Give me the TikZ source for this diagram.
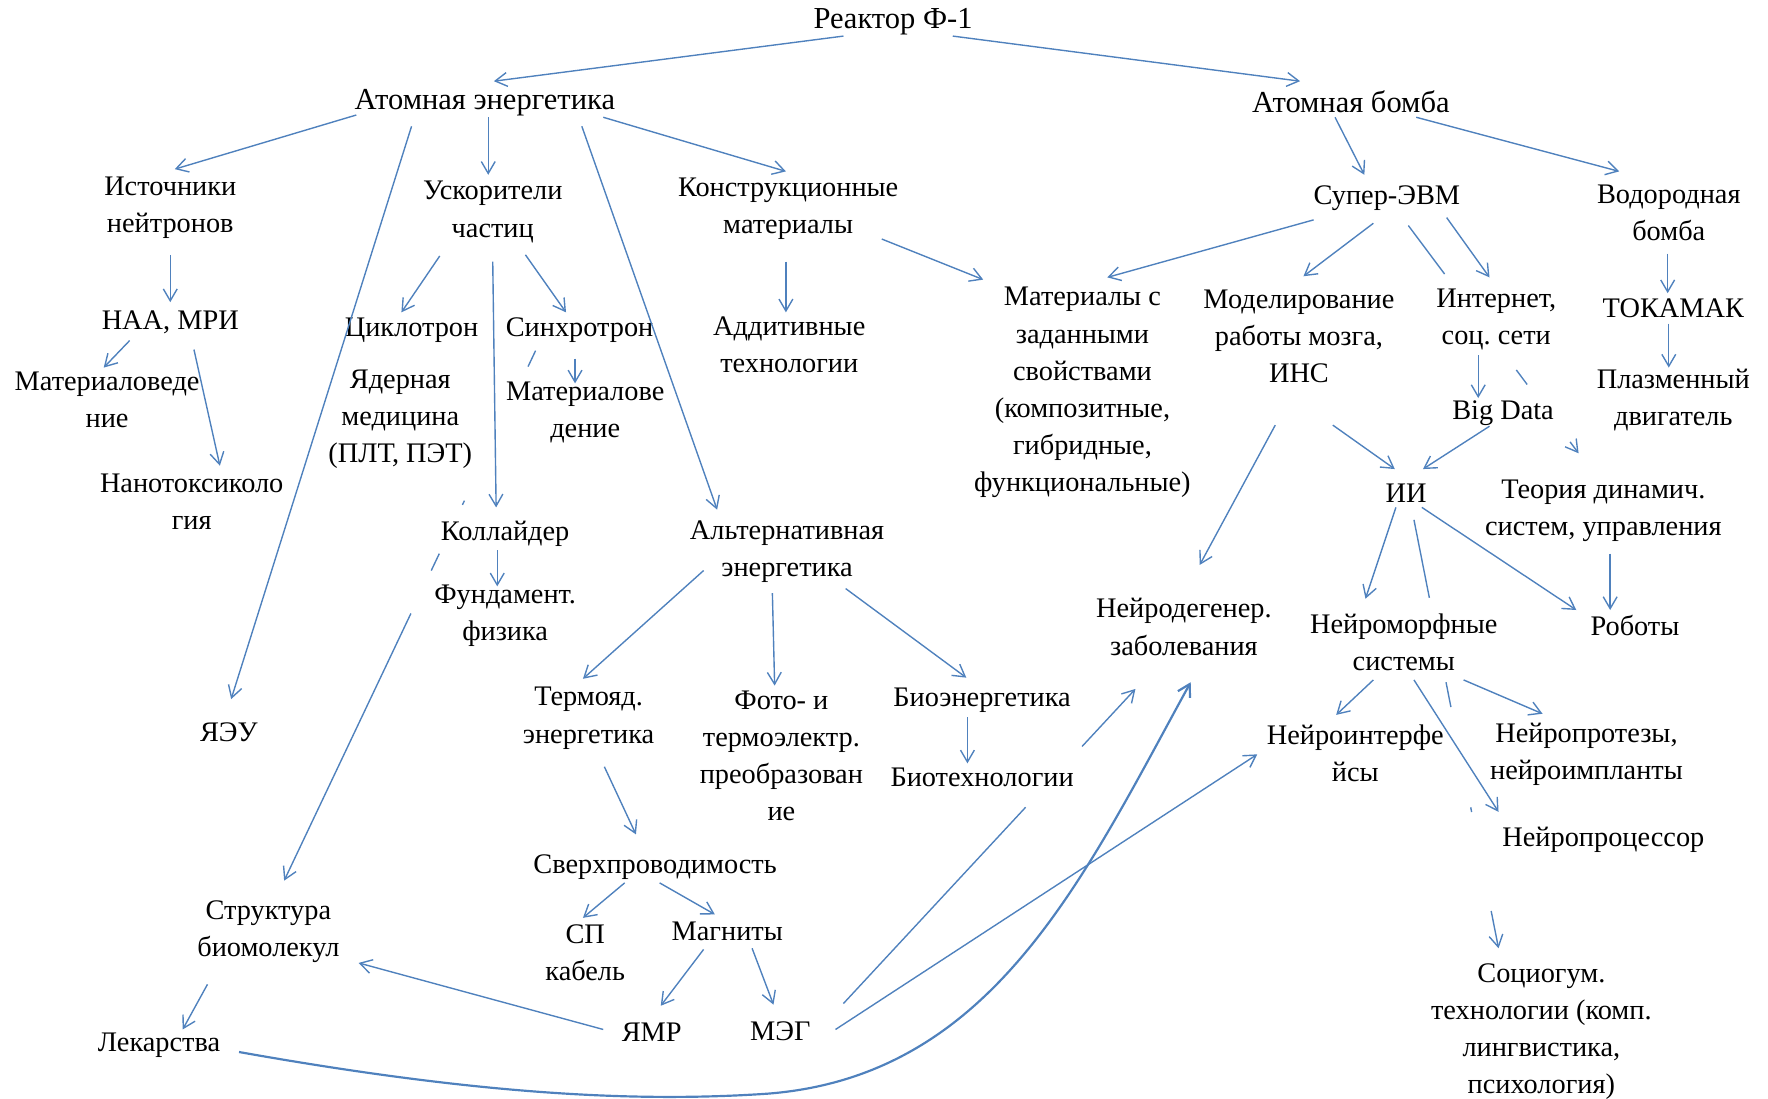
\documentclass[tikz,border=0pt]{standalone}
\usepackage{fontspec}
\setmainfont{Liberation Serif}
\usetikzlibrary{arrows.meta,calc}
\definecolor{linkblue}{RGB}{79,129,189}
\frenchspacing

\begin{document}
\begin{tikzpicture}[x=0.02cm,y=-0.02cm,
	lbl/.style={align=center,inner sep=0pt,font=\fontsize{14.3}{18.7}\selectfont},
	title/.style={lbl,font=\fontsize{15.4}{18.7}\selectfont},
	ln/.style={linkblue,line width=0.7pt},
	arr/.style={ln,-{Straight Barb[length=6pt,width=7pt]}}]
	\useasboundingbox (0,0) rectangle (1568,974);

	% top levels
	\node[title] (reactor) at (792,19) {Реактор Ф-1};
	\node[title] (atomen) at (430,91) {Атомная энергетика};
	\node[title] (bomb) at (1198,90) {Атомная бомба};

	% energy branch
	\node[lbl] (sources) at (151,184) {Источники\\нейтронов};
	\node[lbl] (accel) at (437,188) {Ускорители\\частиц};
	\node[lbl] (constr) at (699,185) {Конструкционные\\материалы};
	\node[lbl] (naa) at (151,286) {НАА, МРИ};
	\node[lbl] (matsci) at (95,355) {Материаловеде\\ние};
	\node[lbl] (nanotox) at (170,445) {Нанотоксиколо\\гия};
	\node[lbl] (cyclo) at (365,293) {Циклотрон};
	\node[lbl] (synchro) at (514,293) {Синхротрон};
	\node[lbl] (nucmed) at (355,372) {Ядерная\\медицина\\(ПЛТ, ПЭТ)};
	\node[lbl] (matsci2) at (519,366) {Материалове\\дение};
	\node[lbl] (additive) at (700,306) {Аддитивные\\технологии};
	\node[lbl] (collider) at (448,473) {Коллайдер};
	\node[lbl] (fundphys) at (448,546) {Фундамент.\\физика};
	\node[lbl] (altenergy) at (698,489) {Альтернативная\\энергетика};
	\node[lbl] (yaeu) at (203,649) {ЯЭУ};
	\node[lbl] (thermo) at (522,637) {Термояд.\\энергетика};
	\node[lbl] (photo) at (693,670) {Фото- и\\термоэлектр.\\преобразован\\ие};
	\node[lbl] (bioen) at (871,621) {Биоэнергетика};
	\node[lbl] (biotech) at (871,689) {Биотехнологии};
	\node[lbl] (supercond) at (581,769) {Сверхпроводимость};
	\node[lbl] (spcable) at (519,845) {СП\\кабель};
	\node[lbl] (magnets) at (645,826) {Магниты};
	\node[lbl] (nmr) at (578,915) {ЯМР};
	\node[lbl] (meg) at (692,915) {МЭГ};
	\node[lbl] (biomol) at (238,826) {Структура\\биомолекул};
	\node[lbl] (drugs) at (141,927) {Лекарства};

	% bomb branch
	\node[lbl] (super) at (1230,176) {Супер-ЭВМ};
	\node[lbl] (hbomb) at (1480,189) {Водородная\\бомба};
	\node[lbl] (matprop) at (960,348) {Материалы с\\заданными\\свойствами\\(композитные,\\гибридные,\\функциональные)};
	\node[lbl] (brain) at (1152,298) {Моделирование\\работы мозга,\\ИНС};
	\node[lbl] (internet) at (1327,283) {Интернет,\\соц. сети};
	\node[lbl] (tokamak) at (1484,273) {ТОКАМАК};
	\node[lbl] (plasma) at (1484,355) {Плазменный\\двигатель};
	\node[lbl] (bigdata) at (1333,366) {Big Data};
	\node[lbl] (ai) at (1247,437) {ИИ};
	\node[lbl] (dynsys) at (1422,453) {Теория динамич.\\систем, управления};
	\node[lbl] (neurodeg) at (1050,556) {Нейродегенер.\\заболевания};
	\node[lbl] (neuromorph) at (1245,570) {Нейроморфные\\системы};
	\node[lbl] (robots) at (1450,555) {Роботы};
	\node[lbl] (neuroint) at (1202,668) {Нейроинтерфе\\йсы};
	\node[lbl] (neuroprost) at (1407,669) {Нейропротезы,\\нейроимпланты};
	\node[lbl] (neuroproc) at (1422,745) {Нейропроцессор};
	\node[lbl] (socio) at (1367,915) {Социогум.\\технологии (комп.\\лингвистика,\\психология)};

	% arrows from the top
	\draw[arr] ($(reactor)+(-44,13)$) -- ($(atomen)+(8,-19)$);
	\draw[arr] ($(reactor)+(53,13)$) -- ($(bomb)+(-45,-18)$);
	\draw[arr] ($(atomen)+(-114,11)$) -- ($(sources)+(4,-34)$);
	\draw[arr] ($(atomen)+(3,13)$) -- ($(accel)+(-4,-33)$);
	\draw[arr] ($(atomen)+(105,13)$) -- ($(constr)+(-2,-33)$);
	\draw[arr] ($(atomen)+(-65,21)$) -- ($(yaeu)+(2,-29)$);
	\draw[arr] ($(atomen)+(86,21)$) -- ($(altenergy)+(-62,-37)$);
	\draw[arr] ($(bomb)+(-14,14)$) -- ($(super)+(-20,-21)$);
	\draw[arr] ($(bomb)+(58,14)$) -- ($(hbomb)+(-44,-37)$);

	% left part
	\draw[arr] ($(sources)+(0,42)$) -- ($(naa)+(0,-18)$);
	\draw[arr] ($(naa)+(-36,16)$) -- ($(matsci)+(-3,-29)$);
	\draw[arr] ($(naa)+(21,24)$) -- ($(nanotox)+(25,-32)$);
	\draw[arr] ($(accel)+(-47,39)$) -- ($(cyclo)+(-9,-16)$);
	\draw[arr] ($(accel)+(29,38)$) -- ($(synchro)+(-12,-16)$);
	\draw[arr] ($(accel)+(0,44)$) -- ($(collider)+(-8,-23)$);
	\draw[arr] ($(synchro)+(-4,25)$) -- ($(matsci2)+(-9,-26)$);
	\draw[arr] ($(collider)+(-7,15)$) -- ($(fundphys)+(-7,-26)$);
	\draw[arr] ($(constr)+(-2,47)$) -- ($(additive)+(-3,-29)$);
	\draw[arr] ($(constr)+(83,27)$) -- ($(matprop)+(-88,-100)$);

	% synchrotron to biomolecules, partly hidden
	\coordinate (sb-a) at ($(synchro)+(-39,18)$);
	\coordinate (sb-b) at ($(biomol)+(14,-45)$);
	\draw[ln] (sb-a) -- ($(sb-a)!.030!(sb-b)$);
	\draw[ln] ($(sb-a)!.283!(sb-b)$) -- ($(sb-a)!.291!(sb-b)$);
	\draw[ln] ($(sb-a)!.383!(sb-b)$) -- ($(sb-a)!.415!(sb-b)$);
	\draw[arr] ($(sb-a)!.496!(sb-b)$) -- (sb-b);

	% alternative energy
	\draw[arr] ($(altenergy)+(-74,17)$) -- ($(thermo)+(-5,-35)$);
	\draw[arr] ($(altenergy)+(-13,37)$) -- ($(photo)+(-6,-62)$);
	\draw[arr] ($(altenergy)+(52,33)$) -- ($(bioen)+(-14,-20)$);
	\draw[arr] ($(bioen)+(-13,15)$) -- ($(biotech)+(-13,-12)$);
	\draw[arr] ($(thermo)+(14,43)$) -- ($(supercond)+(-17,-29)$);
	\draw[arr] ($(supercond)+(-27,14)$) -- ($(spcable)+(-2,-31)$);
	\draw[arr] ($(supercond)+(4,14)$) -- ($(magnets)+(-11,-15)$);
	\draw[arr] ($(magnets)+(-21,16)$) -- ($(nmr)+(8,-23)$);
	\draw[arr] ($(magnets)+(22,15)$) -- ($(meg)+(-6,-24)$);
	\draw[arr] ($(nmr)+(-43,-2)$) -- ($(biomol)+(80,28)$);
	\draw[arr] ($(biomol)+(-54,47)$) -- ($(drugs)+(21,-14)$);

	% MEG, partly hidden behind biotech
	\coordinate (mn-a) at ($(meg)+(56,-25)$);
	\coordinate (mn-b) at ($(neurodeg)+(-43,55)$);
	\draw[ln] (mn-a) -- ($(mn-a)!.624!(mn-b)$);
	\draw[arr] ($(mn-a)!.817!(mn-b)$) -- (mn-b);
	\draw[arr] ($(meg)+(49,-2)$) -- ($(neuroint)+(-87,1)$);

	% drugs to neurodegeneration
	\draw[arr,line width=1.1pt] ($(drugs)+(71,6)$) .. controls (420,970) and (560,978) .. (680,970)
		.. controls (880,955) and (960,780) .. ($(neurodeg)+(6,49)$);

	% right part
	\draw[arr] ($(super)+(-65,19)$) -- ($(matprop)+(22,-102)$);
	\draw[arr] ($(super)+(-12,22)$) -- ($(brain)+(4,-53)$);
	\draw[arr] ($(super)+(53,17)$) -- ($(internet)+(-6,-37)$);
	\coordinate (sd-a) at ($(super)+(19,24)$);
	\coordinate (sd-b) at ($(dynsys)+(-22,-51)$);
	\draw[ln] (sd-a) -- ($(sd-a)!.213!(sd-b)$);
	\draw[ln] ($(sd-a)!.634!(sd-b)$) -- ($(sd-a)!.698!(sd-b)$);
	\draw[arr] ($(sd-a)!.95!(sd-b)$) -- (sd-b);
	\draw[arr] ($(hbomb)+(-1,36)$) -- ($(tokamak)+(-5,-13)$);
	\draw[arr] ($(tokamak)+(-4,14)$) -- ($(plasma)+(-4,-29)$);
	\draw[arr] ($(internet)+(-16,32)$) -- ($(bigdata)+(-22,-13)$);
	\draw[arr] ($(bigdata)+(-12,12)$) -- ($(ai)+(15,-21)$);
	\draw[arr] ($(brain)+(30,79)$) -- ($(ai)+(-10,-21)$);
	\draw[arr] ($(brain)+(-21,79)$) -- ($(neurodeg)+(14,-55)$);
	\draw[arr] ($(ai)+(-9,13)$) -- ($(neuromorph)+(-34,-39)$);
	\draw[arr] ($(ai)+(14,13)$) -- ($(robots)+(-52,-14)$);
	\draw[arr] ($(dynsys)+(6,38)$) -- ($(robots)+(-22,-14)$);
	\draw[arr] ($(neuromorph)+(-27,33)$) -- ($(neuroint)+(-17,-34)$);
	\draw[arr] ($(neuromorph)+(9,33)$) -- ($(neuroproc)+(-93,-25)$);
	\draw[arr] ($(neuromorph)+(53,33)$) -- ($(neuroprost)+(-39,-36)$);

	% AI to socio-humanitarian, partly hidden
	\coordinate (as-a) at ($(ai)+(7,24)$);
	\coordinate (as-b) at ($(socio)+(-38,-74)$);
	\draw[ln] (as-a) -- ($(as-a)!.182!(as-b)$);
	\draw[ln] ($(as-a)!.379!(as-b)$) -- ($(as-a)!.437!(as-b)$);
	\draw[ln] ($(as-a)!.671!(as-b)$) -- ($(as-a)!.682!(as-b)$);
	\draw[arr] ($(as-a)!.913!(as-b)$) -- (as-b);
\end{tikzpicture}
\end{document}
